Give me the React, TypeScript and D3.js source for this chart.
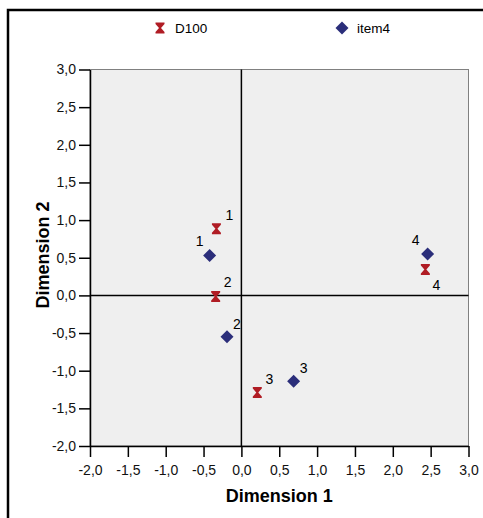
import React, { useRef, useEffect } from 'react';
import * as d3 from 'd3';

// D100 coordinates (Dimension 1, Dimension 2)
const d100Labels = ['1', '2', '3', '4'];
const d100X = [-0.33, -0.34, 0.21, 2.43];
const d100Y = [0.886, -0.013, -1.29, 0.345];

// item4 coordinates
const item4Labels = ['1', '2', '3', '4'];
const item4X = [-0.42, -0.19, 0.69, 2.46];
const item4Y = [0.53, -0.55, -1.14, 0.55];

const xTicks = [-2.0, -1.5, -1.0, -0.5, 0.0, 0.5, 1.0, 1.5, 2.0, 2.5, 3.0];
const yTicks = [-2.0, -1.5, -1.0, -0.5, 0.0, 0.5, 1.0, 1.5, 2.0, 2.5, 3.0];

const RED = '#b01c24';
const BLUE = '#2b2e7a';

const hourglass = 'M-4.5,-5.5 L4.5,-5.5 L4.5,-4 L1,0 L4.5,4 L4.5,5.5 L-4.5,5.5 L-4.5,4 L-1,0 L-4.5,-4 Z';
const diamond = 'M0,-6.5 L6.5,0 L0,6.5 L-6.5,0 Z';

const App = () => {
  const ref = useRef<SVGSVGElement>(null);

  useEffect(() => {
    const svg = d3.select(ref.current);
    svg.selectAll('*').remove();

    const left = 90, right = 468.5, top = 69.5, bottom = 446;
    const x = d3.scaleLinear().domain([-2, 3]).range([left, right]);
    const y = d3.scaleLinear().domain([-2, 3]).range([bottom, top]);
    const font = 'Arial, "Liberation Sans", sans-serif';
    const fmt = (v: number) => v.toFixed(1).replace('.', ',');

    // outer frame
    svg.append('path')
      .attr('d', 'M8,520 L8,10 L490,10')
      .attr('fill', 'none')
      .attr('stroke', '#000')
      .attr('stroke-width', 2.5);

    // plot area
    svg.append('rect')
      .attr('x', left).attr('y', top)
      .attr('width', right - left).attr('height', bottom - top)
      .attr('fill', '#efefef')
      .attr('stroke', '#808080')
      .attr('stroke-width', 1);

    // zero lines
    svg.append('line')
      .attr('x1', x(0)).attr('x2', x(0)).attr('y1', top).attr('y2', bottom)
      .attr('stroke', '#000').attr('stroke-width', 1.5);
    svg.append('line')
      .attr('x1', left).attr('x2', right).attr('y1', y(0)).attr('y2', y(0))
      .attr('stroke', '#000').attr('stroke-width', 1.5);

    // axes
    const xAxis = svg.append('g')
      .attr('transform', `translate(0,${bottom})`)
      .call(d3.axisBottom(x).tickValues(xTicks).tickFormat(d => fmt(+d)).tickSize(11).tickSizeOuter(0));
    const yAxis = svg.append('g')
      .attr('transform', `translate(${left},0)`)
      .call(d3.axisLeft(y).tickValues(yTicks).tickFormat(d => fmt(+d)).tickSize(11).tickSizeOuter(0));
    [xAxis, yAxis].forEach(g => {
      g.select('.domain').attr('stroke', '#000').attr('stroke-width', 1.5);
      g.selectAll('.tick line').attr('stroke', '#000').attr('stroke-width', 1.5);
      g.selectAll('.tick text')
        .attr('fill', '#111')
        .style('font-family', font)
        .style('font-size', '14px');
    });
    xAxis.selectAll('.tick text').attr('dy', '0').attr('y', 29);
    yAxis.selectAll('.tick text').attr('x', -14);

    // axis titles
    svg.append('text')
      .attr('x', (left + right) / 2)
      .attr('y', 502)
      .attr('text-anchor', 'middle')
      .style('font-family', font)
      .style('font-size', '18px')
      .style('font-weight', 'bold')
      .text('Dimension 1');
    svg.append('text')
      .attr('transform', `translate(49,255) rotate(-90)`)
      .attr('text-anchor', 'middle')
      .style('font-family', font)
      .style('font-size', '18px')
      .style('font-weight', 'bold')
      .text('Dimension 2');

    // points
    const d100 = d100Labels.map((l, i) => ({ label: l, x: d100X[i], y: d100Y[i] }));
    const item4 = item4Labels.map((l, i) => ({ label: l, x: item4X[i], y: item4Y[i] }));

    // label offsets: [dx, dy] per point
    const d100Off = [[13, -9], [12, -9], [12, -9], [11, 21]];
    const item4Off = [[-10, -9], [10, -8], [10, -8], [-12, -9]];

    svg.selectAll('.d100')
      .data(d100)
      .enter()
      .append('path')
      .attr('class', 'd100')
      .attr('d', hourglass)
      .attr('transform', d => `translate(${x(d.x)},${y(d.y)})`)
      .attr('fill', RED);
    svg.selectAll('.item4')
      .data(item4)
      .enter()
      .append('path')
      .attr('class', 'item4')
      .attr('d', diamond)
      .attr('transform', d => `translate(${x(d.x)},${y(d.y)})`)
      .attr('fill', BLUE);

    const labelStyle = (sel: any) => sel
      .attr('text-anchor', 'middle')
      .style('font-family', font)
      .style('font-size', '14px')
      .attr('fill', '#000');

    svg.selectAll('.d100lab')
      .data(d100)
      .enter()
      .append('text')
      .attr('class', 'd100lab')
      .attr('x', (d, i) => x(d.x) + d100Off[i][0])
      .attr('y', (d, i) => y(d.y) + d100Off[i][1])
      .call(labelStyle)
      .text(d => d.label);
    svg.selectAll('.item4lab')
      .data(item4)
      .enter()
      .append('text')
      .attr('class', 'item4lab')
      .attr('x', (d, i) => x(d.x) + item4Off[i][0])
      .attr('y', (d, i) => y(d.y) + item4Off[i][1])
      .call(labelStyle)
      .text(d => d.label);

    // legend
    const legend = [
      { name: 'D100', shape: hourglass, color: RED, x: 160 },
      { name: 'item4', shape: diamond, color: BLUE, x: 342 },
    ];
    const lg = svg.selectAll('.legend')
      .data(legend)
      .enter()
      .append('g')
      .attr('class', 'legend')
      .attr('transform', d => `translate(${d.x},28)`);
    lg.append('path').attr('d', d => d.shape).attr('fill', d => d.color);
    lg.append('text')
      .attr('x', 15)
      .attr('y', 5)
      .style('font-family', font)
      .style('font-size', '13.5px')
      .text(d => d.name);
  }, []);

  return (
    <svg
      ref={ref}
      width={483}
      height={518}
      style={{ position: 'absolute', left: 0, top: 0, background: '#fff' }}
    />
  );
};

export default App;
